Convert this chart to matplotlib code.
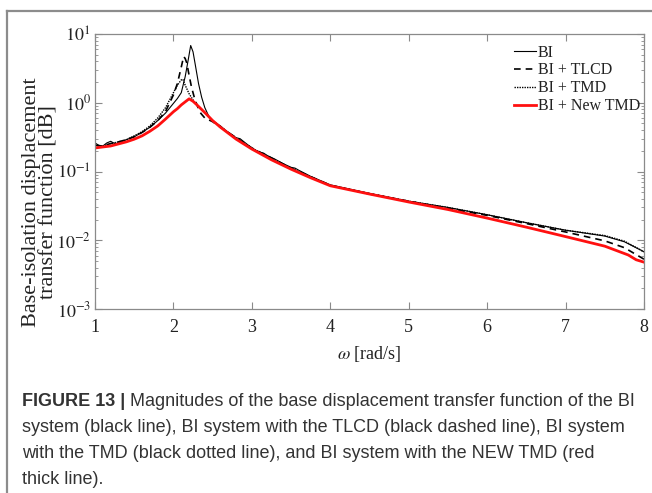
import matplotlib
matplotlib.use("Agg")
import matplotlib.pyplot as plt
from matplotlib.lines import Line2D
from matplotlib.ticker import FixedLocator, FixedFormatter, LogLocator, NullFormatter

plt.rcParams['font.family'] = ['Liberation Serif', 'DejaVu Serif']
plt.rcParams['mathtext.fontset'] = 'stix'

# ---------------- data ----------------
w_bi = [1.0, 1.05, 1.1, 1.15, 1.2, 1.25, 1.3, 1.4, 1.5, 1.6, 1.7, 1.8, 1.9, 2.0, 2.05,
        2.1, 2.15, 2.19, 2.22, 2.25, 2.28, 2.32, 2.36, 2.4, 2.45, 2.5, 2.55, 2.6, 2.65,
        2.7, 2.8, 2.85, 2.9, 3.0, 3.1, 3.15, 3.2, 3.3, 3.4, 3.5, 3.55, 3.6, 3.75, 4.0,
        4.5, 5.0, 5.5, 6.0, 6.5, 7.0, 7.5, 7.75, 8.0]
v_bi = [0.26, 0.24, 0.235, 0.26, 0.275, 0.255, 0.26, 0.29, 0.32, 0.37, 0.44, 0.55, 0.71,
        0.98, 1.15, 1.4, 2.4, 4.3, 6.8, 5.5, 3.5, 1.9, 1.2, 0.85, 0.64, 0.55, 0.5, 0.46,
        0.41, 0.37, 0.31, 0.3, 0.27, 0.22, 0.19, 0.185, 0.17, 0.15, 0.13, 0.115, 0.112,
        0.104, 0.085, 0.064, 0.048, 0.037, 0.03, 0.0235, 0.018, 0.014, 0.0115, 0.0095,
        0.0068]

w_tlcd = [1.0, 1.1, 1.2, 1.3, 1.4, 1.5, 1.6, 1.7, 1.8, 1.9, 2.0, 2.05, 2.1, 2.13, 2.15,
          2.17, 2.2, 2.23, 2.27, 2.31, 2.35, 2.4, 2.5, 2.6, 2.8, 3.0, 3.5, 4.0, 4.5, 5.0,
          5.5, 6.0, 6.5, 7.0, 7.5, 7.75, 8.0]
v_tlcd = [0.24, 0.235, 0.255, 0.27, 0.29, 0.32, 0.37, 0.44, 0.55, 0.75, 1.3, 1.9, 3.3,
          4.7, 4.4, 3.8, 2.5, 1.7, 1.15, 0.87, 0.7, 0.6, 0.53, 0.44, 0.31, 0.22, 0.112,
          0.063, 0.047, 0.037, 0.029, 0.023, 0.0175, 0.0132, 0.0098, 0.0078, 0.0053]

w_tmd = [1.0, 1.1, 1.2, 1.3, 1.4, 1.5, 1.6, 1.7, 1.8, 1.9, 2.0, 2.05, 2.1, 2.12, 2.15,
         2.2, 2.25, 2.3, 2.4, 2.5, 2.6, 2.8, 3.0, 3.5, 4.0, 4.5, 5.0, 5.5, 6.0, 6.5, 7.0,
         7.5, 7.75, 8.0]
v_tmd = [0.24, 0.235, 0.255, 0.27, 0.29, 0.33, 0.38, 0.46, 0.6, 0.85, 1.4, 1.8, 2.15,
         2.2, 1.8, 1.35, 1.1, 0.92, 0.72, 0.55, 0.45, 0.305, 0.218, 0.111, 0.063, 0.048,
         0.037, 0.03, 0.0235, 0.018, 0.014, 0.0117, 0.0097, 0.0068]

w_new = [1.0, 1.2, 1.4, 1.5, 1.6, 1.7, 1.8, 1.9, 2.0, 2.05, 2.1, 2.15, 2.2, 2.25, 2.3,
         2.4, 2.5, 2.6, 2.8, 3.0, 3.25, 3.5, 3.75, 4.0, 4.5, 5.0, 5.5, 6.0, 6.5, 7.0,
         7.5, 7.8, 7.9, 8.0]
v_new = [0.22, 0.235, 0.27, 0.295, 0.33, 0.385, 0.46, 0.58, 0.74, 0.82, 0.93, 1.03,
         1.14, 1.05, 0.93, 0.72, 0.55, 0.44, 0.295, 0.212, 0.148, 0.108, 0.081, 0.062,
         0.047, 0.036, 0.028, 0.021, 0.0155, 0.0113, 0.0082, 0.0061, 0.0052, 0.0048]

labels = ['BI', 'BI + TLCD', 'BI + TMD', 'BI + New TMD']
x_ticks = [1, 2, 3, 4, 5, 6, 7, 8]
y_ticks = [1e-3, 1e-2, 1e-1, 1e0, 1e1]
y_ticklabels = [r'$10^{-3}$', r'$10^{-2}$', r'$10^{-1}$', r'$10^{0}$', r'$10^{1}$']
caption_lines = [
    "Magnitudes of the base displacement transfer function of the BI",
    "system (black line), BI system with the TLCD (black dashed line), BI system",
    "with the TMD (black dotted line), and BI system with the NEW TMD (red",
    "thick line).",
]

# ---------------- figure ----------------
W, H = 652, 493
fig = plt.figure(figsize=(W / 100, H / 100), dpi=100)
L, R, T, B = 95, 644, 34, 309
ax = fig.add_axes([L / W, 1 - B / H, (R - L) / W, (B - T) / H])

ax.plot(w_bi, v_bi, color='black', lw=0.8, label=labels[0])
ax.plot(w_tlcd, v_tlcd, color='black', lw=1.2, ls=(0, (4, 3)), label=labels[1])
ax.plot(w_tmd, v_tmd, color='black', lw=1.0, ls=(0, (1, 0.8)), label=labels[2])
ax.plot(w_new, v_new, color='#ff1010', lw=2.0, label=labels[3])

ax.set_yscale('log')
ax.set_xlim(1, 8)
ax.set_ylim(1e-3, 1e1)
ax.xaxis.set_major_locator(FixedLocator(x_ticks))
ax.yaxis.set_major_locator(FixedLocator(y_ticks))
ax.yaxis.set_major_formatter(FixedFormatter(y_ticklabels))
ax.yaxis.set_minor_locator(LogLocator(base=10, subs=range(2, 10), numticks=20))
ax.yaxis.set_minor_formatter(NullFormatter())

spine_c = '#8a8a8a'
for s in ax.spines.values():
    s.set_color(spine_c)
    s.set_linewidth(0.9)
ax.tick_params(which='both', direction='in', top=True, right=True, color=spine_c,
               labelcolor='#222222', labelsize=13)
ax.tick_params(which='major', length=5, width=0.8)
ax.tick_params(which='minor', length=2.5, width=0.6)
ax.tick_params(axis='x', pad=7)
ax.tick_params(axis='y', pad=3)

ax.set_xlabel(r'$\omega$ [rad/s]', fontsize=13, color='#222222', labelpad=6)
fig.text(40 / W, 1 - 202 / H, 'Base-isolation displacement\ntransfer function [dB]',
         rotation=90, ha='center', va='center', fontsize=16, color='#222222',
         linespacing=0.92)

leg = ax.legend(loc='upper right', frameon=False, fontsize=11.5, handlelength=1.35,
                handletextpad=0.12, labelspacing=0.12, borderaxespad=0.0,
                bbox_to_anchor=(1.004, 0.985))
for t in leg.get_texts():
    t.set_color('#222222')

# outer frame (top and left edges)
fig.add_artist(Line2D([7 / W, 7 / W], [0, 1 - 11 / H], transform=fig.transFigure,
                      color='#8c8c8c', lw=1.6))
fig.add_artist(Line2D([7 / W, 1], [1 - 11 / H, 1 - 11 / H], transform=fig.transFigure,
                      color='#8c8c8c', lw=1.6))

# caption
cap_kw = dict(family=['Liberation Sans', 'DejaVu Sans'], fontsize=13.0, color='#333333',
              va='center', ha='left')
ys = [401, 427, 453, 479]
t0 = fig.text(22 / W, 1 - ys[0] / H, 'FIGURE 13 | ', fontweight='bold', **cap_kw)
fig.canvas.draw()
bb = t0.get_window_extent()
fig.text(bb.x1 / W, 1 - ys[0] / H, caption_lines[0], **cap_kw)
for line, y in zip(caption_lines[1:], ys[1:]):
    fig.text(22 / W, 1 - y / H, line, **cap_kw)

fig.savefig('out.png', dpi=100)
